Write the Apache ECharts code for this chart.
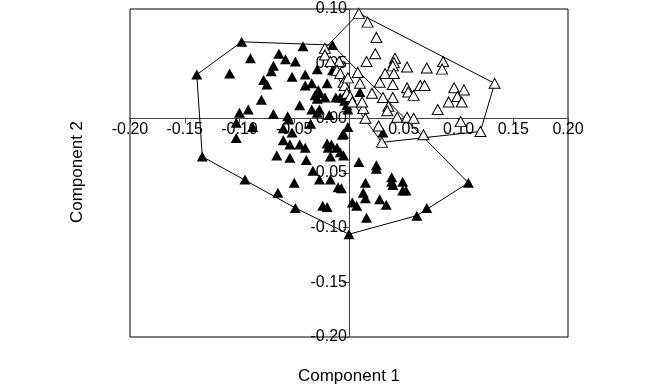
<!DOCTYPE html>
<html>
<head>
<meta charset="utf-8">
<script src="https://cdn.jsdelivr.net/npm/echarts@6/dist/echarts.min.js"></script>
<style>
  html, body { margin: 0; padding: 0; background: #fff; }
  #chart { width: 650px; height: 389px; }
</style>
</head>
<body>
<div id="chart"></div>
<script>
  // group 1 (filled triangles): [component 1, component 2]
  var filledPts = [
    [-0.098, 0.070], [-0.042, 0.066], [-0.139, 0.040], [-0.109, 0.041], [-0.064, 0.059],
    [-0.058, 0.054], [-0.049, 0.052], [-0.069, 0.048], [-0.071, 0.043], [-0.052, 0.038],
    [-0.078, 0.035], [-0.075, 0.031], [-0.080, 0.017], [-0.092, 0.008], [-0.069, 0.004],
    [-0.056, 0.002], [-0.055, -0.001], [-0.029, 0.045], [-0.034, 0.032], [-0.020, 0.032],
    [-0.028, 0.026], [-0.027, 0.023], [-0.031, 0.021], [-0.029, 0.018], [-0.022, 0.019],
    [-0.012, 0.019], [-0.005, 0.019], [-0.015, 0.044], [-0.034, 0.008], [-0.027, 0.008],
    [-0.029, 0.005], [-0.001, 0.008], [-0.008, 0.019], [-0.004, 0.016], [-0.002, 0.012],
    [-0.001, -0.008], [-0.006, -0.015], [0.010, 0.024], [-0.052, -0.013], [-0.054, -0.024],
    [-0.045, -0.024], [-0.040, -0.027], [-0.020, -0.023], [-0.016, -0.024], [-0.008, -0.031],
    [-0.103, -0.004], [-0.088, -0.008], [-0.103, -0.018], [-0.060, -0.009], [-0.060, -0.020],
    [-0.066, -0.034], [-0.054, -0.036], [-0.039, -0.038], [-0.019, -0.027], [-0.011, -0.027],
    [-0.005, -0.034], [-0.005, -0.014], [-0.017, -0.035], [-0.033, -0.048], [-0.027, -0.056],
    [-0.017, -0.056], [-0.010, -0.063], [-0.007, -0.064], [-0.050, -0.059], [-0.134, -0.035],
    [-0.095, -0.056], [-0.065, -0.068], [-0.049, -0.082], [0.000, -0.106], [-0.024, -0.080],
    [-0.020, -0.081], [0.003, -0.077], [0.007, -0.080], [0.009, -0.040], [0.025, -0.043],
    [0.025, -0.046], [0.015, -0.059], [0.039, -0.054], [0.039, -0.058], [0.040, -0.061],
    [0.049, -0.058], [0.049, -0.066], [0.052, -0.066], [0.013, -0.068], [0.015, -0.073],
    [0.028, -0.074], [0.034, -0.079], [0.016, -0.091], [0.062, -0.089], [0.071, -0.082],
    [0.109, -0.059], [0.031, -0.013], [-0.090, 0.055], [-0.100, 0.005], [-0.015, 0.067],
    [-0.040, 0.030], [-0.045, 0.012], [-0.018, 0.003], [-0.035, -0.005], [-0.040, 0.040]
  ];

  // group 2 (open triangles)
  var openPts = [
    [0.009, 0.096], [0.017, 0.088], [0.025, 0.074], [-0.022, 0.064], [0.024, 0.059],
    [0.016, 0.052], [0.042, 0.055], [0.041, 0.051], [0.040, 0.048], [0.053, 0.047],
    [0.071, 0.046], [0.086, 0.052], [0.085, 0.045], [0.133, 0.032], [-0.009, 0.052],
    [0.008, 0.042], [0.010, 0.032], [0.033, 0.041], [0.041, 0.041], [0.028, 0.033],
    [0.040, 0.031], [0.053, 0.028], [0.054, 0.024], [0.065, 0.030], [0.069, 0.030],
    [0.059, 0.021], [0.021, 0.023], [0.031, 0.019], [0.040, 0.019], [0.096, 0.028],
    [0.105, 0.026], [0.099, 0.020], [0.091, 0.015], [0.103, 0.015], [0.036, 0.011],
    [0.035, 0.007], [0.081, 0.008], [0.013, 0.009], [0.015, 0.000], [0.044, 0.001],
    [0.053, 0.001], [0.059, 0.000], [0.102, -0.003], [0.120, -0.012], [0.027, -0.007],
    [0.068, -0.015], [0.030, -0.022], [-0.022, 0.058], [-0.017, 0.052], [-0.011, 0.044],
    [-0.008, 0.041], [-0.005, 0.033], [-0.004, 0.030], [-0.002, 0.023], [0.001, 0.020],
    [-0.001, 0.037], [0.003, 0.015], [0.012, 0.015]
  ];

  var xTicks = [-0.20, -0.15, -0.10, -0.05, 0.00, 0.05, 0.10, 0.15, 0.20];
  var yTicks = [-0.20, -0.15, -0.10, -0.05, 0.00, 0.05, 0.10];

  // convex hull (monotone chain), closed for drawing
  function hull (pts) {
    var p = pts.slice().sort(function (a, b) { return a[0] - b[0] || a[1] - b[1]; });
    var cross = function (o, a, b) {
      return (a[0] - o[0]) * (b[1] - o[1]) - (a[1] - o[1]) * (b[0] - o[0]);
    };
    var lower = [], upper = [];
    for (var i = 0; i < p.length; i++) {
      while (lower.length >= 2 && cross(lower[lower.length - 2], lower[lower.length - 1], p[i]) <= 0) lower.pop();
      lower.push(p[i]);
    }
    for (var j = p.length - 1; j >= 0; j--) {
      while (upper.length >= 2 && cross(upper[upper.length - 2], upper[upper.length - 1], p[j]) <= 0) upper.pop();
      upper.push(p[j]);
    }
    upper.pop(); lower.pop();
    var h = lower.concat(upper);
    h.push(h[0]);
    return h;
  }

  var font = 'Liberation Sans, Arial, sans-serif';
  var gridL = 130, gridR = 82, gridT = 9, gridB = 52;
  var W = 650, H = 389;
  var xMin = xTicks[0], xMax = xTicks[xTicks.length - 1];
  var yMin = yTicks[0], yMax = yTicks[yTicks.length - 1];
  // move axes to cross at zero (labels too)
  var gw = W - gridL - gridR, gh = H - gridT - gridB;
  var xOffset = -gh * (0 - yMin) / (yMax - yMin);
  var yOffset = -gw * (0 - xMin) / (xMax - xMin);

  var chart = echarts.init(document.getElementById('chart'));

  chart.setOption({
    animation: false,
    backgroundColor: '#fff',
    grid: {
      left: gridL, right: gridR, top: gridT, bottom: gridB,
      show: true, borderColor: '#000', borderWidth: 1,
      outerBoundsMode: 'none'
    },
    xAxis: {
      type: 'value',
      min: xMin, max: xMax, interval: 0.05,
      offset: xOffset,
      axisLine: { onZero: false, lineStyle: { color: '#444', width: 1 } },
      axisTick: { show: true, length: 5, lineStyle: { color: '#444' } },
      splitLine: { show: false },
      axisLabel: {
        color: '#000', fontSize: 16, fontFamily: font, margin: 3,
        hideOverlap: false, showMinLabel: true, showMaxLabel: true,
        formatter: function (v) { return Math.abs(v) < 1e-9 ? '' : v.toFixed(2); }
      }
    },
    yAxis: {
      type: 'value',
      min: yMin, max: yMax, interval: 0.05,
      offset: yOffset,
      axisLine: { onZero: false, lineStyle: { color: '#444', width: 1 } },
      axisTick: { show: true, length: 6, lineStyle: { color: '#444' } },
      splitLine: { show: false },
      axisLabel: {
        color: '#000', fontSize: 16, fontFamily: font, margin: 2,
        hideOverlap: false, showMinLabel: true, showMaxLabel: true,
        formatter: function (v) { return (Math.abs(v) < 1e-9 ? 0 : v).toFixed(2); }
      }
    },
    graphic: [
      {
        type: 'text', x: 349, y: 376,
        style: { text: 'Component 1', fontSize: 17, fontFamily: font, fill: '#000',
                 align: 'center', verticalAlign: 'middle' }
      },
      {
        type: 'text', x: 77, y: 172, rotation: Math.PI / 2,
        style: { text: 'Component 2', fontSize: 17, fontFamily: font, fill: '#000',
                 align: 'center', verticalAlign: 'middle' }
      }
    ],
    series: [
      {
        type: 'line', data: hull(filledPts), symbol: 'none', silent: true,
        lineStyle: { color: '#000', width: 1 }, z: 1
      },
      {
        type: 'line', data: hull(openPts), symbol: 'none', silent: true,
        lineStyle: { color: '#000', width: 1 }, z: 1
      },
      {
        type: 'scatter', data: filledPts, symbol: 'triangle', symbolSize: [11, 10],
        itemStyle: { color: '#000', opacity: 1 }, z: 2
      },
      {
        type: 'scatter', data: openPts, symbol: 'triangle', symbolSize: [11, 10],
        itemStyle: { color: '#fff', borderColor: '#000', borderWidth: 1, opacity: 1 }, z: 3
      }
    ]
  });
</script>
</body>
</html>
